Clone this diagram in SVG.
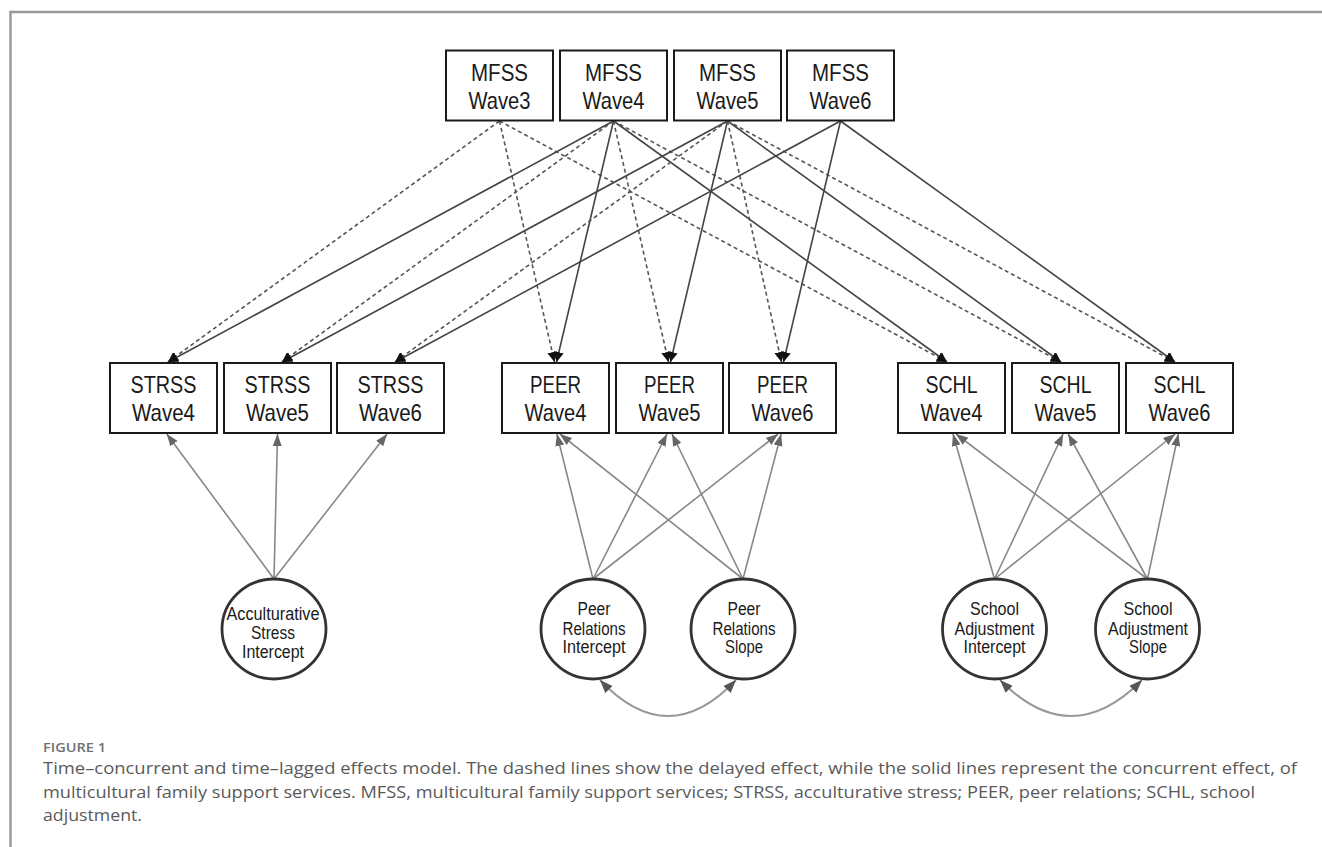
<svg xmlns="http://www.w3.org/2000/svg" width="1322" height="847" viewBox="0 0 1322 847">
<defs>
<style>
.box{fill:#fff;stroke:#1a1a1a;stroke-width:2}
.lat{fill:#fff;stroke:#333;stroke-width:2.8}
.bt{font-family:"Liberation Sans",Arial,sans-serif;font-size:24px;fill:#1a1a1a;text-anchor:middle}
.ct{font-family:"Liberation Sans",Arial,sans-serif;font-size:17.5px;fill:#1a1a1a;text-anchor:middle}
.sol{stroke:#444;stroke-width:1.6;fill:none}
.das{stroke:#555;stroke-width:1.6;stroke-dasharray:4 3;fill:none}
.gry{stroke:#888;stroke-width:1.6;fill:none}
.arc{stroke:#999;stroke-width:2;fill:none}
.cap{font-family:"Open Sans","Liberation Sans",sans-serif;font-size:16.5px;fill:#5a5a5a}
.fig{font-family:"Open Sans","Liberation Sans",sans-serif;font-size:13px;font-weight:600;fill:#707070}
</style>
<marker id="ab" markerUnits="userSpaceOnUse" viewBox="0 0 10 10" markerWidth="10" markerHeight="10" refX="10" refY="5" orient="auto"><path d="M0,0 L10,5 L0,10 z" fill="#111"/></marker>
<marker id="ag" markerUnits="userSpaceOnUse" viewBox="0 0 12 9" markerWidth="12" markerHeight="9" refX="12" refY="4.5" orient="auto"><path d="M0,0 L12,4.5 L0,9 z" fill="#666"/></marker>
<marker id="aa" markerUnits="userSpaceOnUse" viewBox="0 0 13 10" markerWidth="13" markerHeight="10" refX="13" refY="5" orient="auto-start-reverse"><path d="M0,0 L13,5 L0,10 z" fill="#555"/></marker>
</defs>
<rect x="0" y="0" width="1322" height="847" fill="#fff"/>
<g id="frame" stroke="#999" stroke-width="2.5" fill="none">
<path d="M10.5,847 L10.5,12 L1322,12"/>
</g>

<g id="connectors">
<!-- MFSS Wave3 dashed (time-lagged) -->
<line class="das" x1="499.5" y1="121" x2="168" y2="362" marker-end="url(#ab)"/>
<line class="das" x1="499.5" y1="121" x2="554.5" y2="362" marker-end="url(#ab)"/>
<line class="das" x1="499.5" y1="121" x2="947" y2="362" marker-end="url(#ab)"/>
<!-- MFSS Wave4 -->
<line class="sol" x1="613.5" y1="121" x2="168" y2="362" marker-end="url(#ab)"/>
<line class="sol" x1="613.5" y1="121" x2="556.5" y2="362" marker-end="url(#ab)"/>
<line class="sol" x1="613.5" y1="121" x2="947" y2="362" marker-end="url(#ab)"/>
<line class="das" x1="613.5" y1="121" x2="282" y2="362" marker-end="url(#ab)"/>
<line class="das" x1="613.5" y1="121" x2="668.5" y2="362" marker-end="url(#ab)"/>
<line class="das" x1="613.5" y1="121" x2="1061" y2="362" marker-end="url(#ab)"/>
<!-- MFSS Wave5 -->
<line class="sol" x1="727.5" y1="121" x2="282" y2="362" marker-end="url(#ab)"/>
<line class="sol" x1="727.5" y1="121" x2="670.5" y2="362" marker-end="url(#ab)"/>
<line class="sol" x1="727.5" y1="121" x2="1061" y2="362" marker-end="url(#ab)"/>
<line class="das" x1="727.5" y1="121" x2="395" y2="362" marker-end="url(#ab)"/>
<line class="das" x1="727.5" y1="121" x2="781.5" y2="362" marker-end="url(#ab)"/>
<line class="das" x1="727.5" y1="121" x2="1175" y2="362" marker-end="url(#ab)"/>
<!-- MFSS Wave6 -->
<line class="sol" x1="840.5" y1="121" x2="395" y2="362" marker-end="url(#ab)"/>
<line class="sol" x1="840.5" y1="121" x2="783.5" y2="362" marker-end="url(#ab)"/>
<line class="sol" x1="840.5" y1="121" x2="1175" y2="362" marker-end="url(#ab)"/>
<!-- latent factors to indicators -->
<line class="gry" x1="274" y1="579" x2="166.8" y2="434" marker-end="url(#ag)"/>
<line class="gry" x1="274" y1="579" x2="277.5" y2="434" marker-end="url(#ag)"/>
<line class="gry" x1="274" y1="579" x2="387.1" y2="434" marker-end="url(#ag)"/>
<line class="gry" x1="593" y1="579" x2="556.9" y2="434" marker-end="url(#ag)"/>
<line class="gry" x1="593" y1="579" x2="667" y2="434" marker-end="url(#ag)"/>
<line class="gry" x1="593" y1="579" x2="778.1" y2="434" marker-end="url(#ag)"/>
<line class="gry" x1="743" y1="579" x2="559.9" y2="434" marker-end="url(#ag)"/>
<line class="gry" x1="743" y1="579" x2="672" y2="434" marker-end="url(#ag)"/>
<line class="gry" x1="743" y1="579" x2="781.1" y2="434" marker-end="url(#ag)"/>
<line class="gry" x1="994.5" y1="579" x2="953" y2="434" marker-end="url(#ag)"/>
<line class="gry" x1="994.5" y1="579" x2="1063.1" y2="434" marker-end="url(#ag)"/>
<line class="gry" x1="994.5" y1="579" x2="1175.1" y2="434" marker-end="url(#ag)"/>
<line class="gry" x1="1147.5" y1="579" x2="955.9" y2="434" marker-end="url(#ag)"/>
<line class="gry" x1="1147.5" y1="579" x2="1068.2" y2="434" marker-end="url(#ag)"/>
<line class="gry" x1="1147.5" y1="579" x2="1178.3" y2="434" marker-end="url(#ag)"/>
<!-- covariances -->
<path class="arc" d="M600,680 Q668,752 736,680" marker-start="url(#aa)" marker-end="url(#aa)"/>
<path class="arc" d="M1000,680 Q1071,752 1142,680" marker-start="url(#aa)" marker-end="url(#aa)"/>
</g>

<g id="mfss3"><rect class="box" x="446" y="50.5" width="107" height="70"/><text class="bt" x="499.5" y="81" textLength="57" lengthAdjust="spacingAndGlyphs">MFSS</text><text class="bt" x="499.5" y="108.5" textLength="62" lengthAdjust="spacingAndGlyphs">Wave3</text></g>
<g id="mfss4"><rect class="box" x="560" y="50.5" width="107" height="70"/><text class="bt" x="613.5" y="81" textLength="57" lengthAdjust="spacingAndGlyphs">MFSS</text><text class="bt" x="613.5" y="108.5" textLength="62" lengthAdjust="spacingAndGlyphs">Wave4</text></g>
<g id="mfss5"><rect class="box" x="674" y="50.5" width="107" height="70"/><text class="bt" x="727.5" y="81" textLength="57" lengthAdjust="spacingAndGlyphs">MFSS</text><text class="bt" x="727.5" y="108.5" textLength="62" lengthAdjust="spacingAndGlyphs">Wave5</text></g>
<g id="mfss6"><rect class="box" x="787" y="50.5" width="107" height="70"/><text class="bt" x="840.5" y="81" textLength="57" lengthAdjust="spacingAndGlyphs">MFSS</text><text class="bt" x="840.5" y="108.5" textLength="62" lengthAdjust="spacingAndGlyphs">Wave6</text></g>

<g id="strss4"><rect class="box" x="110" y="363" width="107" height="70"/><text class="bt" x="163.5" y="393" textLength="66" lengthAdjust="spacingAndGlyphs">STRSS</text><text class="bt" x="163.5" y="420.5" textLength="63" lengthAdjust="spacingAndGlyphs">Wave4</text></g>
<g id="strss5"><rect class="box" x="224" y="363" width="107" height="70"/><text class="bt" x="277.5" y="393" textLength="66" lengthAdjust="spacingAndGlyphs">STRSS</text><text class="bt" x="277.5" y="420.5" textLength="63" lengthAdjust="spacingAndGlyphs">Wave5</text></g>
<g id="strss6"><rect class="box" x="337" y="363" width="107" height="70"/><text class="bt" x="390.5" y="393" textLength="66" lengthAdjust="spacingAndGlyphs">STRSS</text><text class="bt" x="390.5" y="420.5" textLength="63" lengthAdjust="spacingAndGlyphs">Wave6</text></g>

<g id="peer4"><rect class="box" x="502" y="363" width="107" height="70"/><text class="bt" x="555.5" y="393" textLength="51" lengthAdjust="spacingAndGlyphs">PEER</text><text class="bt" x="555.5" y="420.5" textLength="62" lengthAdjust="spacingAndGlyphs">Wave4</text></g>
<g id="peer5"><rect class="box" x="616" y="363" width="107" height="70"/><text class="bt" x="669.5" y="393" textLength="51" lengthAdjust="spacingAndGlyphs">PEER</text><text class="bt" x="669.5" y="420.5" textLength="62" lengthAdjust="spacingAndGlyphs">Wave5</text></g>
<g id="peer6"><rect class="box" x="729" y="363" width="107" height="70"/><text class="bt" x="782.5" y="393" textLength="51" lengthAdjust="spacingAndGlyphs">PEER</text><text class="bt" x="782.5" y="420.5" textLength="62" lengthAdjust="spacingAndGlyphs">Wave6</text></g>

<g id="schl4"><rect class="box" x="898" y="363" width="107" height="70"/><text class="bt" x="951.5" y="393" textLength="52" lengthAdjust="spacingAndGlyphs">SCHL</text><text class="bt" x="951.5" y="420.5" textLength="62" lengthAdjust="spacingAndGlyphs">Wave4</text></g>
<g id="schl5"><rect class="box" x="1012" y="363" width="107" height="70"/><text class="bt" x="1065.5" y="393" textLength="52" lengthAdjust="spacingAndGlyphs">SCHL</text><text class="bt" x="1065.5" y="420.5" textLength="62" lengthAdjust="spacingAndGlyphs">Wave5</text></g>
<g id="schl6"><rect class="box" x="1126" y="363" width="107" height="70"/><text class="bt" x="1179.5" y="393" textLength="52" lengthAdjust="spacingAndGlyphs">SCHL</text><text class="bt" x="1179.5" y="420.5" textLength="62" lengthAdjust="spacingAndGlyphs">Wave6</text></g>

<g id="acc_int"><ellipse class="lat" cx="274" cy="629" rx="52" ry="50"/>
<text class="ct" x="273" y="620" textLength="93" lengthAdjust="spacingAndGlyphs">Acculturative</text>
<text class="ct" x="273" y="639" textLength="44" lengthAdjust="spacingAndGlyphs">Stress</text>
<text class="ct" x="273" y="657.5" textLength="62" lengthAdjust="spacingAndGlyphs">Intercept</text></g>

<g id="peer_int"><ellipse class="lat" cx="593" cy="629" rx="52" ry="50"/>
<text class="ct" x="594" y="615" textLength="33" lengthAdjust="spacingAndGlyphs">Peer</text>
<text class="ct" x="594" y="635" textLength="63" lengthAdjust="spacingAndGlyphs">Relations</text>
<text class="ct" x="594" y="653" textLength="63" lengthAdjust="spacingAndGlyphs">Intercept</text></g>

<g id="peer_slope"><ellipse class="lat" cx="743" cy="629" rx="52" ry="50"/>
<text class="ct" x="744" y="615" textLength="33" lengthAdjust="spacingAndGlyphs">Peer</text>
<text class="ct" x="744" y="635" textLength="63" lengthAdjust="spacingAndGlyphs">Relations</text>
<text class="ct" x="744" y="653" textLength="38" lengthAdjust="spacingAndGlyphs">Slope</text></g>

<g id="schl_int"><ellipse class="lat" cx="994.5" cy="629" rx="52" ry="50"/>
<text class="ct" x="994.5" y="615" textLength="49" lengthAdjust="spacingAndGlyphs">School</text>
<text class="ct" x="994.5" y="635" textLength="80" lengthAdjust="spacingAndGlyphs">Adjustment</text>
<text class="ct" x="994.5" y="653" textLength="62" lengthAdjust="spacingAndGlyphs">Intercept</text></g>

<g id="schl_slope"><ellipse class="lat" cx="1147.5" cy="629" rx="52" ry="50"/>
<text class="ct" x="1148" y="615" textLength="49" lengthAdjust="spacingAndGlyphs">School</text>
<text class="ct" x="1148" y="635" textLength="80" lengthAdjust="spacingAndGlyphs">Adjustment</text>
<text class="ct" x="1148" y="653" textLength="38" lengthAdjust="spacingAndGlyphs">Slope</text></g>

<g id="caption">
<text class="fig" x="43" y="752" textLength="63" lengthAdjust="spacingAndGlyphs">FIGURE 1</text>
<text class="cap" x="43" y="774" textLength="1254" lengthAdjust="spacingAndGlyphs">Time–concurrent and time–lagged effects model. The dashed lines show the delayed effect, while the solid lines represent the concurrent effect, of</text>
<text class="cap" x="43" y="797.5" textLength="1212" lengthAdjust="spacingAndGlyphs">multicultural family support services. MFSS, multicultural family support services; STRSS, acculturative stress; PEER, peer relations; SCHL, school</text>
<text class="cap" x="43" y="821" textLength="99" lengthAdjust="spacingAndGlyphs">adjustment.</text>
</g>
</svg>
